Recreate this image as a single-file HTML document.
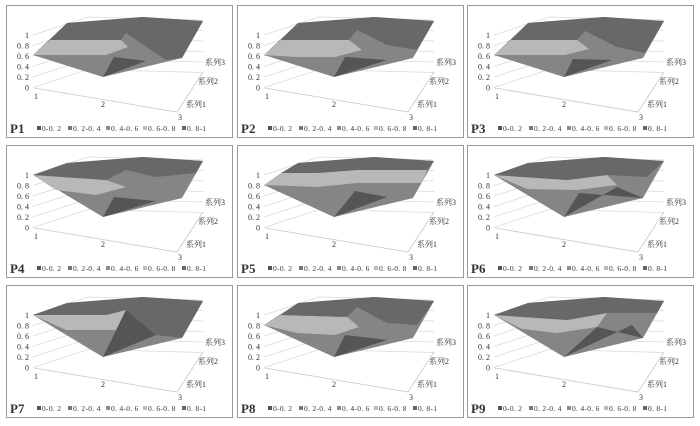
<!DOCTYPE html>
<html><head><meta charset="utf-8"><style>
html,body{margin:0;padding:0;background:#fff;}
body{width:700px;height:426px;overflow:hidden;position:relative;}
svg{position:absolute;left:0;top:0;}
text{font-family:"Liberation Serif","Noto Serif CJK SC",serif;fill:#333;}
</style></head><body>
<svg id="s" width="700" height="426" viewBox="0 0 700 426"></svg>
<script>
const L=[6,237,467],T=[5,145,285];
const variants=[
 {o:"27,50 61,18 137,12 197,16 176,53 97,72",d:"44,35 61,18 137,12 197,16 176,53 160,55 120,28 115,35",l:"27,50 44,35 115,35 122,42 100,50 60,50",b:"97,72 108,52 140,56"},
 {o:"27,50 61,18 137,12 197,16 176,53 97,72",d:"44,35 61,18 137,12 197,16 180,45 150,40 120,25 112,35",l:"27,50 44,35 112,35 125,45 98,52 60,52",b:"97,72 108,52 150,55"},
 {o:"27,50 61,18 137,12 197,16 176,53 97,72",d:"44,35 61,18 137,12 197,16 178,48 150,42 118,26 110,35",l:"27,50 44,35 110,35 122,44 98,50 60,50",b:"97,72 106,54 145,55"},
 {o:"27,30 61,18 137,12 197,16 176,53 97,72",d:"27,30 61,18 137,12 197,16 190,28 150,32 120,25 100,35",l:"27,30 100,35 120,42 90,50 50,45",b:"97,72 108,52 150,56"},
 {o:"27,40 61,18 137,12 197,16 176,53 97,72",d:"44,28 61,18 137,12 197,16 190,25 120,25 80,28",l:"27,40 44,28 80,28 120,25 190,25 185,38 120,38 80,42",b:"97,72 118,46 150,52"},
 {o:"27,30 61,18 137,12 197,16 176,53 97,72",d:"27,30 61,18 137,12 197,16 180,32 140,30 100,35",l:"27,30 100,35 140,30 150,40 110,45 60,44",b:"97,72 112,48 176,53 150,42"},
 {o:"27,30 61,18 137,12 197,16 176,53 97,72",d:"27,30 61,18 137,12 197,16 176,53 150,50 120,25 100,30",l:"27,30 100,30 120,25 110,45 60,45",b:"97,72 120,25 150,50"},
 {o:"27,40 61,18 137,12 197,16 176,53 97,72",d:"44,30 61,18 137,12 197,16 180,40 150,38 120,22 110,32",l:"27,40 44,30 110,32 122,42 98,50 60,48",b:"97,72 108,50 150,55"},
 {o:"27,30 61,18 137,12 197,16 176,53 97,72",d:"27,30 61,18 137,12 197,16 190,28 140,28 100,35",l:"27,30 100,35 140,28 130,42 90,48 55,44",b:"97,72 130,42 176,53 165,40"}
];
let h="";
for(let r=0;r<3;r++)for(let c=0;c<3;c++){
 const i=r*3+c,v=variants[i],x=L[c],y=T[r];
 h+=`<g transform="translate(${x},${y})">`;
 h+=`<rect x="0.5" y="0.5" width="226" height="132" fill="#fff" stroke="#9a9a9a" stroke-width="1"/>`;
 const vals=["1","0. 8","0. 6","0. 4","0. 2","0"];
 for(let k=0;k<6;k++){const yy=30+k*10.5;
  h+=`<polyline points="27,${yy} 82,${yy-18} 197,${yy-15}" fill="none" stroke="#d8d8d8" stroke-width="0.7"/>`;
  h+=`<text x="23" y="${yy+3}" font-size="8" text-anchor="end">${vals[k]}</text>`;}
 h+=`<polyline points="28,83 171,107 197,67" fill="none" stroke="#c8c8c8" stroke-width="0.8"/>`;
 h+=`<polygon points="${v.o}" fill="#858585"/>`;
 h+=`<polygon points="${v.l}" fill="#b8b8b8"/>`;
 h+=`<polygon points="${v.d}" fill="#686868"/>`;
 h+=`<polygon points="${v.b}" fill="#555"/>`;
 h+=`<text x="28" y="94" font-size="8">1</text><text x="95" y="102" font-size="8">2</text><text x="172" y="115" font-size="8">3</text>`;
 h+=`<text x="199" y="60" font-size="8">系列3</text><text x="192" y="79" font-size="8">系列2</text><text x="180" y="102" font-size="8">系列1</text>`;
 h+=`<text x="4" y="128" font-size="13" font-weight="bold" fill="#222">P${i+1}</text>`;
 const lg=["0-0. 2","0. 2-0. 4","0. 4-0. 6","0. 6-0. 8","0. 8-1"],lx=[31,62,100,137,176],lc=["#555","#777","#8c8c8c","#bbb","#666"];
 for(let k=0;k<5;k++){h+=`<rect x="${lx[k]}" y="121" width="4" height="4" fill="${lc[k]}"/><text x="${lx[k]+5}" y="126" font-size="7.5" letter-spacing="0.3">${lg[k]}</text>`;}
 h+=`</g>`;
}
document.getElementById("s").innerHTML=h;
</script>
</body></html>
